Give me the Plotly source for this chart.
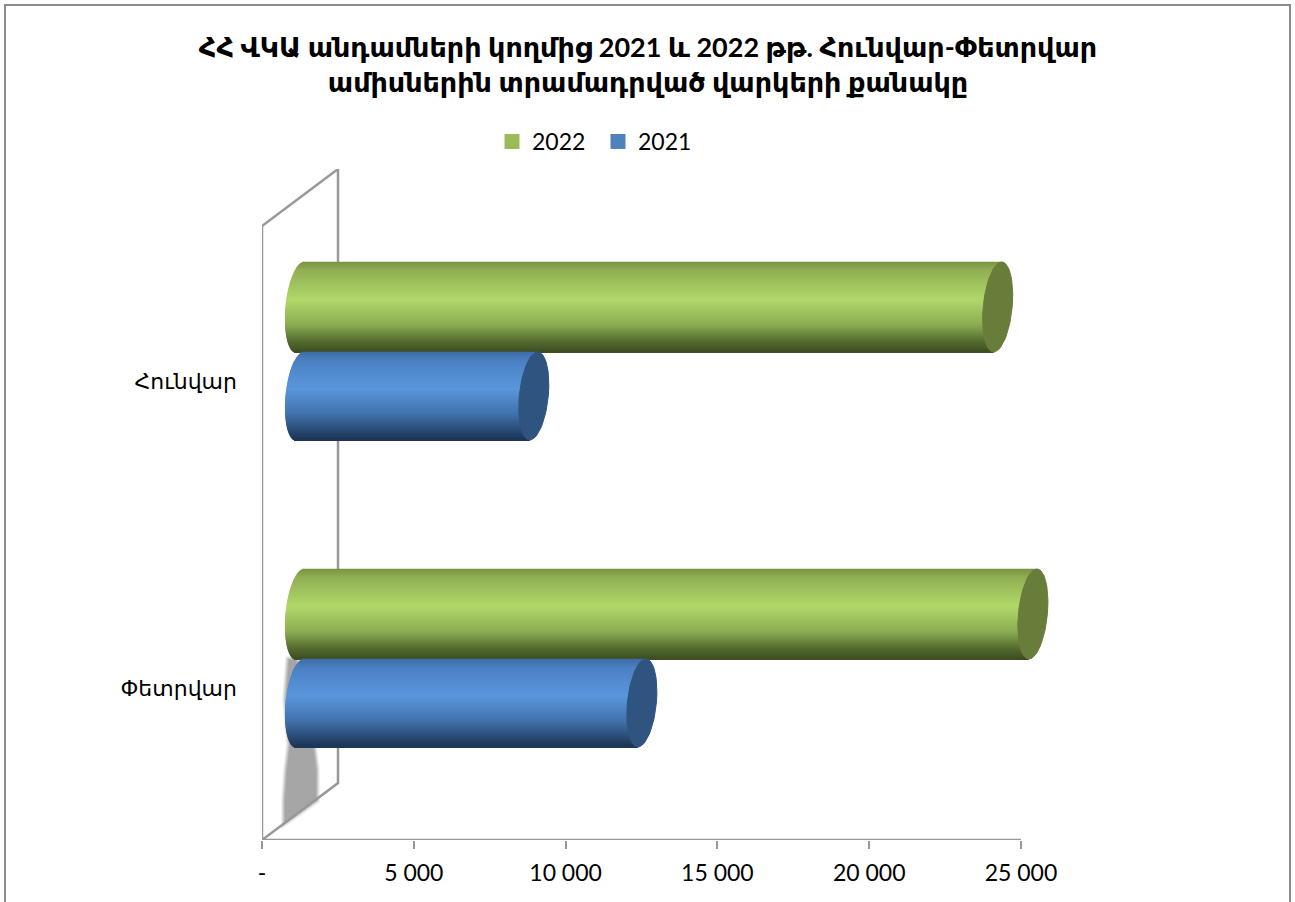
import numpy as np
import plotly.graph_objects as go

# ---- data -------------------------------------------------------------
categories = ["Փետրվար", "Հունվար"]
series_2022 = [24140, 22980]
series_2021 = [11260, 7700]
tick_values = [0, 5000, 10000, 15000, 20000, 25000]
tick_labels = ["-", "5 000", "10 000", "15 000", "20 000", "25 000"]
title_text = "ՀՀ ՎԿԱ անդամների կողմից 2021 և 2022 թթ. Հունվար-Փետրվար<br>ամիսներին տրամադրված վարկերի քանակը"

# ---- layout geometry ---------------------------------------------------
W, H = 1295, 902
L, R, T, B = 262, 1021, 169, 840
RP = 1065  # plot area reaches past the 25 000 tick so the bar ends are not cut
PXX = (R - L) / 25000
CAT_PX = 307
YZERO_PX = 659
FONT = "Lato, 'DejaVu Sans', sans-serif"
GRAY = "#989898"

def xd(px):
    return (px - L) / PXX

def yd(py):
    return (YZERO_PX - py) / CAT_PX

yr = yd(B), yd(T)

positions = list(range(len(categories)))
base_x = xd(300)
ax = 14.5 / PXX
sk = 4 / PXX
N = 90

def lerp_stops(stops, t):
    ts = [s[0] for s in stops]
    rgb = [np.interp(t, ts, [s[1][k] for s in stops]) for k in range(3)]
    return "rgb(%d,%d,%d)" % tuple(int(round(v)) for v in rgb)

green_stops = [(0, (122, 146, 66)), (0.1, (146, 176, 84)), (0.42, (176, 216, 106)),
               (0.7, (140, 172, 82)), (0.88, (86, 108, 48)), (1, (62, 78, 34))]
blue_stops = [(0, (62, 108, 166)), (0.1, (74, 128, 194)), (0.42, (90, 150, 220)),
              (0.7, (66, 116, 174)), (0.88, (42, 76, 118)), (1, (28, 52, 84))]

fig = go.Figure()

def cylinder(values, top_px_offset, height_px, stops, cap):
    hh = height_px / CAT_PX
    step = hh / N
    for i in range(N):
        t = (i + 0.5) / N
        u = 2 * t - 1
        y = [p + (-top_px_offset) / CAT_PX - t * hh for p in positions]
        left = base_x - ax * np.sqrt(1 - u * u) - sk * u
        right = [base_x + v - sk * u for v in values]
        fig.add_trace(go.Bar(
            y=y, x=[r - left for r in right], base=[left] * len(values),
            orientation="h", width=step * 1.5,
            marker=dict(color=lerp_stops(stops, t), line_width=0),
            showlegend=False, hoverinfo="skip"))
    th = np.linspace(0, 2 * np.pi, 80)
    for p, v in zip(positions, values):
        cy = p - top_px_offset / CAT_PX - hh / 2
        fig.add_trace(go.Scatter(
            x=base_x + v + ax * np.cos(th) - sk * np.sin(th),
            y=cy - hh / 2 * np.sin(th),
            mode="lines", fill="toself", fillcolor=cap,
            line=dict(color=cap, width=1), showlegend=False,
            hoverinfo="skip"))

cylinder(series_2022, -90, 90, green_stops, "#687D3A")
cylinder(series_2021, 0, 88, blue_stops, "#2F5480")

# legend entries
fig.add_trace(go.Scatter(x=[None], y=[None], mode="markers", name="2022",
                         marker=dict(symbol="square", size=15, color="#9BBB59")))
fig.add_trace(go.Scatter(x=[None], y=[None], mode="markers", name="2021",
                         marker=dict(symbol="square", size=15, color="#4F81BD")))

def path(points, close=True):
    s = "M " + " L ".join(f"{xd(a)},{yd(b)}" for a, b in points)
    return s + (" Z" if close else "")

shadow = [(289, 660), (286, 700), (290, 745), (287, 770), (285, 800), (285, 822),
          (316, 800), (316, 770), (313, 745), (296, 660)]
shapes = []
for w, op in ((8, 0.15), (6, 0.25), (4, 0.35), (2, 0.6)):
    shapes.append(dict(type="path", path=path(shadow), xref="x", yref="y", layer="below",
                       fillcolor="#A6A6A6", opacity=op,
                       line=dict(color="#A6A6A6", width=w)))
shapes.append(dict(type="path", path=path(shadow), xref="x", yref="y", layer="below",
                   fillcolor="#A6A6A6", line=dict(width=0)))
shapes.append(dict(type="path", path=path([(L, 226), (338, T), (338, 783), (L, B)]),
                   xref="x", yref="y", layer="below", fillcolor="rgba(0,0,0,0)",
                   line=dict(color=GRAY, width=2.5)))
# value axis line, stopping at the last tick
shapes.append(dict(type="path", path=path([(L, B), (R, B)], close=False), xref="x", yref="y",
                   layer="below", line=dict(color=GRAY, width=2.5)))
# outer frame
shapes.append(dict(type="rect", xref="paper", yref="paper",
                   x0=(5 - L) / (RP - L), x1=(1290 - L) / (RP - L),
                   y0=(B - 930) / (B - T), y1=(B - 5) / (B - T),
                   line=dict(color="#8C8C8C", width=2), fillcolor="rgba(0,0,0,0)", layer="below"))

fig.update_layout(
    width=W, height=H, autosize=False,
    margin=dict(l=L, r=W - RP, t=T, b=H - B, pad=0),
    paper_bgcolor="white", plot_bgcolor="white",
    barmode="overlay", shapes=shapes,
    font=dict(family=FONT, size=22, color="black"),
    title=dict(text=title_text, x=648 / W, xanchor="center", y=0.937, yanchor="top",
               font=dict(family=FONT, size=27, color="black", weight="bold")),
    legend=dict(orientation="h", x=(492 - L) / (RP - L), xref="paper", xanchor="left",
                y=(B - 120) / (B - T), yref="paper", yanchor="top",
                font=dict(size=23), bgcolor="rgba(0,0,0,0)", itemwidth=30,
                entrywidth=61, entrywidthmode="pixels"),
    xaxis=dict(range=[0, xd(RP)], tickvals=tick_values, ticktext=tick_labels, showgrid=False,
               zeroline=False, showline=False,
               ticks="outside", ticklen=8, tickwidth=2, tickcolor=GRAY,
               tickfont=dict(size=23), ticklabelstandoff=4),
    yaxis=dict(range=list(yr), tickvals=[p - 29 / CAT_PX for p in positions], ticktext=categories,
               showgrid=False, zeroline=False, showline=False, ticks="", ticklabelstandoff=24,
               tickfont=dict(size=22)),
    showlegend=True,
)
fig.write_html("out.html", post_script="document.body.style.margin='0';",
               config=dict(displayModeBar=False))
